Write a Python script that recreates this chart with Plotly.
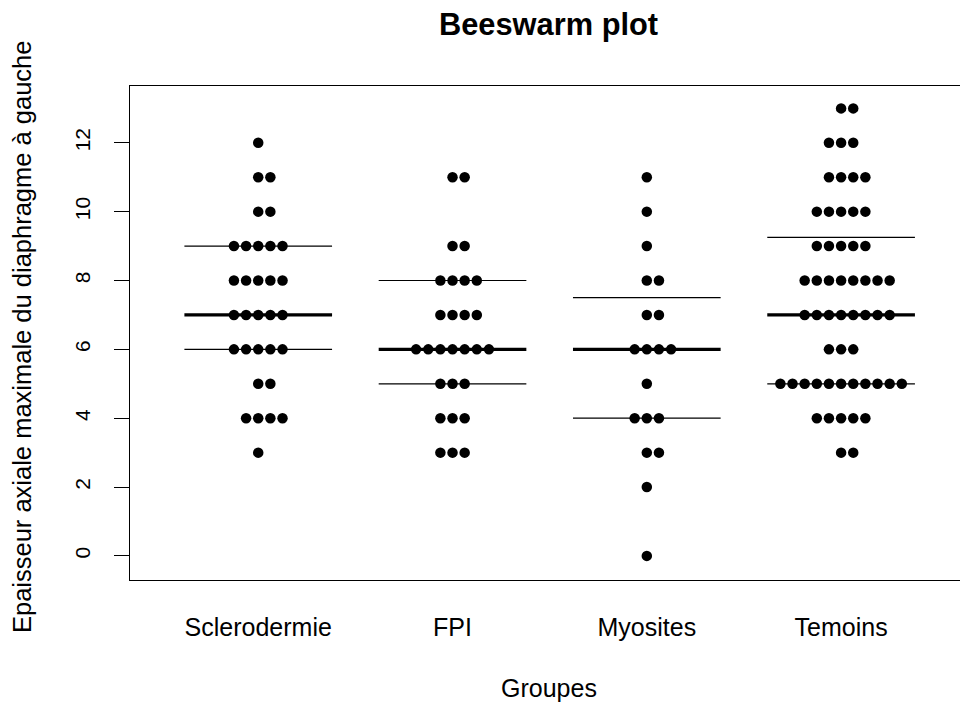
import numpy as np
import plotly.graph_objects as go

groups = ["Sclerodermie", "FPI", "Myosites", "Temoins"]

sclerodermie = [12, 11, 11, 10, 10, 9, 9, 9, 9, 9, 8, 8, 8, 8, 8,
                7, 7, 7, 7, 7, 6, 6, 6, 6, 6, 5, 5, 4, 4, 4, 4, 3]
fpi = [11, 11, 9, 9, 8, 8, 8, 8, 7, 7, 7, 7, 6, 6, 6, 6, 6, 6, 6,
       5, 5, 5, 4, 4, 4, 3, 3, 3]
myosites = [11, 10, 9, 8, 8, 7, 7, 6, 6, 6, 6, 5, 4, 4, 4, 3, 3, 2, 0]
temoins = [13, 13, 12, 12, 12, 11, 11, 11, 11, 10, 10, 10, 10, 10,
           9, 9, 9, 9, 9, 8, 8, 8, 8, 8, 8, 8, 8, 7, 7, 7, 7, 7, 7, 7, 7,
           6, 6, 6, 5, 5, 5, 5, 5, 5, 5, 5, 5, 5, 5, 4, 4, 4, 4, 4, 3, 3]

values = [sclerodermie, fpi, myosites, temoins]
ytick_vals = [0, 2, 4, 6, 8, 10, 12]

FONT = "Liberation Sans, Arial, sans-serif"
DOT_STEP = 0.0625   # horizontal spacing of swarm dots (x units)
HALF_W = 0.38       # half width of median/quartile segments

fig = go.Figure()

for gi, vals in enumerate(values):
    center = gi + 1
    xs, ys = [], []
    for v in sorted(set(vals), reverse=True):
        n = vals.count(v)
        lo = -((n - 1) // 2)
        for k in range(n):
            xs.append(center + (lo + k) * DOT_STEP)
            ys.append(v)
    fig.add_trace(go.Scatter(x=xs, y=ys, mode="markers",
                             marker=dict(color="black", size=10.5, line=dict(width=0)),
                             showlegend=False, hoverinfo="y"))
    q1, med, q3 = np.percentile(vals, [25, 50, 75])
    for q, w in ((q1, 1.2), (q3, 1.2), (med, 3.2)):
        fig.add_trace(go.Scatter(x=[center - HALF_W, center + HALF_W], y=[q, q],
                                 mode="lines", line=dict(color="black", width=w),
                                 showlegend=False, hoverinfo="skip"))

fig.update_layout(
    width=960, height=705,
    margin=dict(l=130, r=0, t=86, b=125),
    paper_bgcolor="white", plot_bgcolor="white",
    font=dict(family=FONT, color="black"),
    xaxis=dict(range=[0.34, 4.612], tickmode="array",
               tickvals=[1, 2, 3, 4], ticktext=groups,
               showgrid=False, zeroline=False, showline=True, mirror=True,
               linecolor="black", linewidth=1.2, ticks="",
               tickfont=dict(size=25, family=FONT, color="black"),
               ticklabelstandoff=25),
    yaxis=dict(range=[-0.70, 13.65], tickmode="array", tickvals=ytick_vals,
               ticktext=[str(v) for v in ytick_vals],
               showgrid=False, zeroline=False, showline=True, mirror=False,
               linecolor="black", linewidth=1.2, ticks="outside", ticklen=15,
               tickcolor="black", tickwidth=1.2, tickangle=-90,
               tickfont=dict(size=21, family=FONT, color="black"),
               ticklabelstandoff=16),
    annotations=[
        dict(text="<b>Beeswarm plot</b>", x=0.5048, y=1.1255, xref="paper", yref="paper",
             xanchor="center", yanchor="middle", showarrow=False,
             font=dict(size=30.8, family=FONT, color="black")),
        dict(text="Groupes", x=0.5048, y=-0.2186, xref="paper", yref="paper",
             xanchor="center", yanchor="middle", showarrow=False,
             font=dict(size=25, family=FONT, color="black")),
        dict(text="Epaisseur axiale maximale du diaphragme à gauche",
             x=-0.130, y=0.492, xref="paper", yref="paper", textangle=-90,
             xanchor="center", yanchor="middle", showarrow=False,
             font=dict(size=25.5, family=FONT, color="black")),
    ],
)

fig.write_html("out.html", config={"displayModeBar": False},
               post_script="document.body.style.margin='0';")
